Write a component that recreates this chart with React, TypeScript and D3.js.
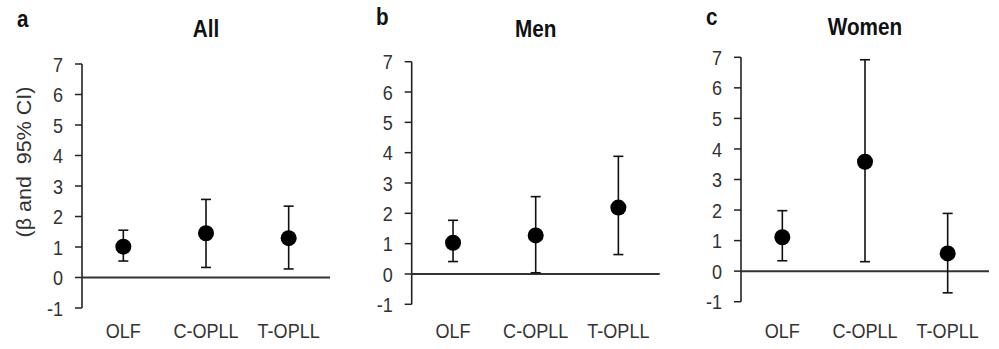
import React from "react";
import * as d3 from "d3";

const categories = ["OLF", "C-OPLL", "T-OPLL"];
const yTicks = [-1, 0, 1, 2, 3, 4, 5, 6, 7];

const allBeta = [1.01, 1.45, 1.29];
const allLower = [0.54, 0.33, 0.28];
const allUpper = [1.55, 2.56, 2.34];

const menBeta = [1.03, 1.27, 2.19];
const menLower = [0.41, 0.04, 0.64];
const menUpper = [1.77, 2.55, 3.88];

const womenBeta = [1.11, 3.58, 0.58];
const womenLower = [0.34, 0.31, -0.71];
const womenUpper = [1.98, 6.92, 1.89];

const panelLetters = ["a", "b", "c"];
const panelTitles = ["All", "Men", "Women"];
const yLabel = "(β and  95% CI)";

const FONT = "Liberation Sans, Arial, Helvetica, sans-serif";
const SX = 0.86;

const layouts = [
  { axisX: 82, yTop: 64, yBot: 308, letterX: 17, letterY: 27, titleY: 36.7 },
  { axisX: 411.7, yTop: 61.7, yBot: 304.3, letterX: 376, letterY: 25, titleY: 36.5 },
  { axisX: 741, yTop: 57.3, yBot: 301.7, letterX: 706, letterY: 25, titleY: 35 },
];

const series = [
  { beta: allBeta, lower: allLower, upper: allUpper },
  { beta: menBeta, lower: menLower, upper: menUpper },
  { beta: womenBeta, lower: womenLower, upper: womenUpper },
];

function T({
  x,
  y,
  size,
  anchor = "start",
  bold = false,
  fill = "#333",
  sx = SX,
  dy,
  children,
}: any) {
  return (
    <g transform={`translate(${x},${y}) scale(${sx},1)`}>
      <text
        textAnchor={anchor}
        fontFamily={FONT}
        fontWeight={bold ? "bold" : "normal"}
        fontSize={size}
        fill={fill}
        dy={dy}
      >
        {children}
      </text>
    </g>
  );
}

function Panel({ idx }: { idx: number }) {
  const L = layouts[idx];
  const s = series[idx];
  const y = d3.scaleLinear().domain([-1, 7]).range([L.yBot, L.yTop]);
  const x = d3
    .scaleBand<string>()
    .domain(categories)
    .range([L.axisX, L.axisX + 248])
    .paddingInner(0)
    .paddingOuter(0);
  const cx = (c: string) => (x(c) as number) + x.bandwidth() / 2;
  const stroke = "#222";
  return (
    <g>
      <T x={L.letterX} y={L.letterY} size={24} bold fill="#111">
        {panelLetters[idx]}
      </T>
      <T x={cx(categories[1])} y={L.titleY} size={23} bold anchor="middle" fill="#111" sx={0.9}>
        {panelTitles[idx]}
      </T>
      <line x1={L.axisX} x2={L.axisX} y1={y(7)} y2={y(-1)} stroke={stroke} strokeWidth={1.6} />
      {yTicks.map((t) => (
        <g key={t}>
          <line x1={L.axisX - 7} x2={L.axisX} y1={y(t)} y2={y(t)} stroke={stroke} strokeWidth={1.5} />
          <T x={L.axisX - 19} y={y(t)} size={21} anchor="end" dy="0.36em">
            {t}
          </T>
        </g>
      ))}
      <line x1={L.axisX} x2={L.axisX + 248} y1={y(0)} y2={y(0)} stroke="#333" strokeWidth={2} />
      {categories.map((c, i) => {
        const px = cx(c);
        return (
          <g key={c}>
            <line x1={px} x2={px} y1={y(s.upper[i])} y2={y(s.lower[i])} stroke="#111" strokeWidth={1.6} />
            <line x1={px - 5} x2={px + 5} y1={y(s.upper[i])} y2={y(s.upper[i])} stroke="#111" strokeWidth={1.6} />
            <line x1={px - 5} x2={px + 5} y1={y(s.lower[i])} y2={y(s.lower[i])} stroke="#111" strokeWidth={1.6} />
            <circle cx={px} cy={y(s.beta[i])} r={8} fill="#000" />
            <T x={px} y={338} size={21} anchor="middle">
              {c}
            </T>
          </g>
        );
      })}
    </g>
  );
}

export default function App() {
  return (
    <svg width={999} height={349} style={{ position: "absolute", left: 0, top: 0, background: "#fff" }}>
      <rect width={999} height={349} fill="#fff" />
      <text
        transform="translate(31,162) rotate(-90)"
        textAnchor="middle"
        fontFamily={FONT}
        fontSize={19.5}
        fill="#333"
        textLength={151}
        lengthAdjust="spacingAndGlyphs"
        style={{ whiteSpace: "pre" }}
      >
        {yLabel}
      </text>
      {[0, 1, 2].map((i) => (
        <Panel key={i} idx={i} />
      ))}
    </svg>
  );
}
